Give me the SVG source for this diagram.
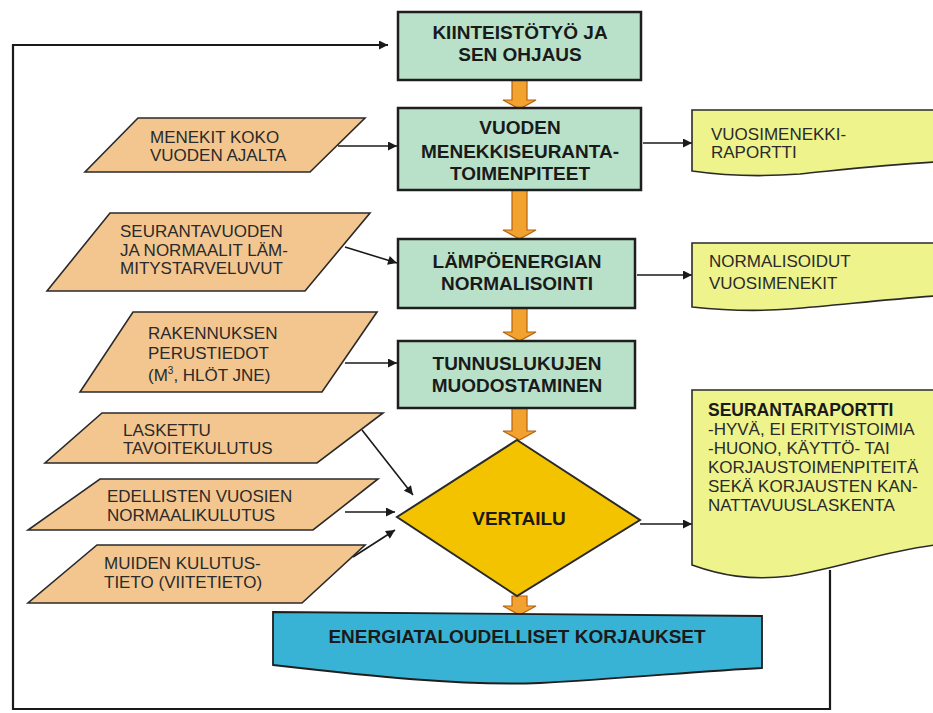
<svg xmlns="http://www.w3.org/2000/svg" width="933" height="713" viewBox="0 0 933 713">
<defs>
<style>
.box{fill:#b9e1c9;stroke:#1e1e1e;stroke-width:2.5}
.par{fill:#f3c690;stroke:#2a2a2a;stroke-width:1.6}
.doc{fill:#eef38c;stroke:#2a2a2a;stroke-width:1.6}
.dia{fill:#f4c300;stroke:#2a2a2a;stroke-width:2}
.blue{fill:#39b3d5;stroke:#1e1e1e;stroke-width:1.8}
.flow{fill:#f2a22e;stroke:#b5600f;stroke-width:1.2}
.ln{fill:none;stroke:#1a1a1a;stroke-width:1.6}
.loop{fill:none;stroke:#1a1a1a;stroke-width:2.2}
.tb{font-family:"Liberation Sans",Arial,sans-serif;font-weight:bold;font-size:19px;fill:#1a1a1a;text-anchor:middle}
.tr{font-family:"Liberation Sans",Arial,sans-serif;font-size:17px;fill:#2a2a2a}
.trb{font-family:"Liberation Sans",Arial,sans-serif;font-size:17.5px;font-weight:bold;fill:#1a1a1a}
</style>
<marker id="ah" viewBox="0 0 10 10" refX="10" refY="5" markerWidth="10" markerHeight="9" markerUnits="userSpaceOnUse" orient="auto">
<path d="M0,0 L10,5 L0,10 Z" fill="#1a1a1a"/>
</marker>
</defs>
<rect width="933" height="713" fill="#ffffff"/>

<g id="connectors">
<polyline class="loop" points="830,570 830,709 13,709 13,45 388,45" marker-end="url(#ah)"/>
<line class="ln" x1="338" y1="146" x2="397" y2="146" marker-end="url(#ah)"/>
<line class="ln" x1="345" y1="247" x2="397" y2="263" marker-end="url(#ah)"/>
<line class="ln" x1="345" y1="363" x2="397" y2="363" marker-end="url(#ah)"/>
<line class="ln" x1="362" y1="430" x2="413" y2="495" marker-end="url(#ah)"/>
<line class="ln" x1="345" y1="512" x2="395" y2="512" marker-end="url(#ah)"/>
<line class="ln" x1="353" y1="557" x2="395" y2="530" marker-end="url(#ah)"/>
<line class="ln" x1="643" y1="143" x2="692" y2="143" marker-end="url(#ah)"/>
<line class="ln" x1="637" y1="275" x2="692" y2="275" marker-end="url(#ah)"/>
<line class="ln" x1="640" y1="524" x2="692" y2="524" marker-end="url(#ah)"/>
<path class="flow" d="M512,80 H527 V100 H536 L519.5,109 L503,100 H512 Z"/>
<path class="flow" d="M512,190 H527 V230 H536 L519.5,239 L503,230 H512 Z"/>
<path class="flow" d="M512,308 H527 V332 H536 L519.5,341 L503,332 H512 Z"/>
<path class="flow" d="M512,408 H527 V431 H536 L519.5,440 L503,431 H512 Z"/>
<path class="flow" d="M512,596 H527 V606 H536 L519.5,615 L503,606 H512 Z"/>
</g>

<g id="kiinteistotyo">
<rect class="box" x="398" y="12" width="243" height="68"/>
<text class="tb" x="520" y="39">KIINTEISTÖTYÖ JA</text>
<text class="tb" x="520" y="61">SEN  OHJAUS</text>
</g>

<g id="menekkiseuranta">
<rect class="box" x="398" y="108" width="243" height="82"/>
<text class="tb" x="520" y="134">VUODEN</text>
<text class="tb" x="520" y="158">MENEKKISEURANTA-</text>
<text class="tb" x="520" y="180">TOIMENPITEET</text>
</g>

<g id="normalisointi">
<rect class="box" x="398" y="239" width="237" height="69"/>
<text class="tb" x="517" y="268">LÄMPÖENERGIAN</text>
<text class="tb" x="517" y="290">NORMALISOINTI</text>
</g>

<g id="tunnusluvut">
<rect class="box" x="398" y="341" width="237" height="67"/>
<text class="tb" x="517" y="370">TUNNUSLUKUJEN</text>
<text class="tb" x="517" y="392">MUODOSTAMINEN</text>
</g>

<g id="vertailu">
<polygon class="dia" points="517,440 640,520 517,596 397,517"/>
<text class="tb" x="519" y="525">VERTAILU</text>
</g>

<g id="korjaukset">
<path class="blue" d="M273,612 L762,616 L762,668 C700,671 620,679 540,683 C460,686 370,676 273,665 Z"/>
<text class="tb" x="517" y="643">ENERGIATALOUDELLISET KORJAUKSET</text>
</g>

<g id="vuosimenekkiraportti">
<path class="doc" d="M692,110 H935 V162 C880,165 840,170 800,174 C760,177 720,175 692,171 Z"/>
<text class="tr" x="711" y="140">VUOSIMENEKKI-</text>
<text class="tr" x="711" y="158">RAPORTTI</text>
</g>

<g id="normalisoidut">
<path class="doc" d="M692,243 H935 V296 C880,300 840,305 790,309 C750,312 720,310 692,307 Z"/>
<text class="tr" x="709" y="267">NORMALISOIDUT</text>
<text class="tr" x="709" y="289">VUOSIMENEKIT</text>
</g>

<g id="seurantaraportti">
<path class="doc" d="M692,390 H935 V545 C880,552 840,568 790,576 C750,581 720,575 692,565 Z"/>
<text class="trb" x="708" y="416">SEURANTARAPORTTI</text>
<text class="tr" x="708" y="435">-HYVÄ, EI ERITYISTOIMIA</text>
<text class="tr" x="708" y="454">-HUONO, KÄYTTÖ- TAI</text>
<text class="tr" x="708" y="473">KORJAUSTOIMENPITEITÄ</text>
<text class="tr" x="708" y="492">SEKÄ KORJAUSTEN KAN-</text>
<text class="tr" x="708" y="511">NATTAVUUSLASKENTA</text>
</g>

<g id="menekit">
<polygon class="par" points="138,118 365,118 310,172 85,172"/>
<text class="tr" x="150" y="143">MENEKIT KOKO</text>
<text class="tr" x="150" y="161">VUODEN AJALTA</text>
</g>

<g id="lammitystarveluvut">
<polygon class="par" points="110,213 370,213 305,291 47,291"/>
<text class="tr" x="120" y="237">SEURANTAVUODEN</text>
<text class="tr" x="120" y="255.5">JA NORMAALIT LÄM-</text>
<text class="tr" x="120" y="274">MITYSTARVELUVUT</text>
</g>

<g id="perustiedot">
<polygon class="par" points="133,312 377,312 322,392 80,392"/>
<text class="tr" x="148" y="339">RAKENNUKSEN</text>
<text class="tr" x="148" y="359">PERUSTIEDOT</text>
<text class="tr" x="148" y="381">(M<tspan font-size="10" dy="-7">3</tspan><tspan dy="7">, HLÖT JNE)</tspan></text>
</g>

<g id="tavoitekulutus">
<polygon class="par" points="102,413 383,413 317,463 45,463"/>
<text class="tr" x="123" y="436">LASKETTU</text>
<text class="tr" x="123" y="454">TAVOITEKULUTUS</text>
</g>

<g id="normaalikulutus">
<polygon class="par" points="100,479 378,479 313,530 28,530"/>
<text class="tr" x="107" y="502">EDELLISTEN VUOSIEN</text>
<text class="tr" x="107" y="521">NORMAALIKULUTUS</text>
</g>

<g id="viitetieto">
<polygon class="par" points="97,545 365,545 302,603 28,603"/>
<text class="tr" x="104" y="569">MUIDEN  KULUTUS-</text>
<text class="tr" x="104" y="588">TIETO (VIITETIETO)</text>
</g>
</svg>
